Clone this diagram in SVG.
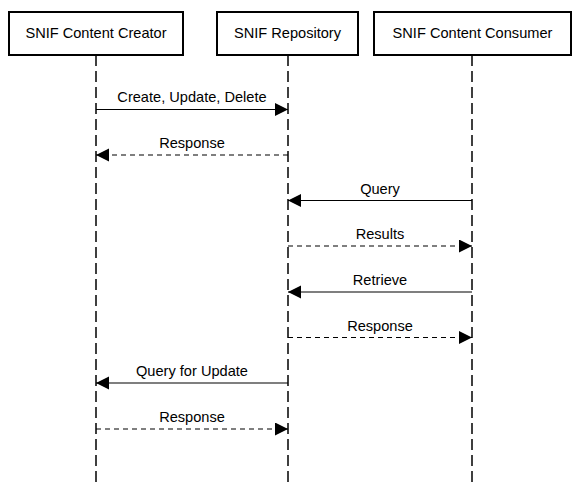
<svg xmlns="http://www.w3.org/2000/svg" width="578" height="486" viewBox="0 0 578 486">
<style>
.box{fill:#fff;stroke:#000;stroke-width:2}
.life{stroke:#000;stroke-width:1.5;stroke-dasharray:11,5;fill:none}
.msg{stroke:#000;stroke-width:1.2;fill:none;marker-end:url(#ah)}
.dash{stroke-dasharray:5,4}
text{font-family:"Liberation Sans",Arial,sans-serif;font-size:14.6px;fill:#000;text-anchor:middle}
</style>
<defs>
<marker id="ah" markerUnits="userSpaceOnUse" markerWidth="14" markerHeight="14" refX="13" refY="6.5" orient="auto">
<path d="M0,0 L13,6.5 L0,13 z" fill="#000"/>
</marker>
</defs>
<g id="lifelines">
<line class="life" x1="96" y1="55" x2="96" y2="486"/>
<line class="life" x1="288" y1="55" x2="288" y2="486"/>
<line class="life" x1="472" y1="55" x2="472" y2="486"/>
</g>
<g id="creator"><rect class="box" x="9" y="12" width="174" height="43"/><text x="96" y="38">SNIF Content Creator</text></g>
<g id="repository"><rect class="box" x="217" y="12" width="141" height="43"/><text x="287.5" y="38">SNIF Repository</text></g>
<g id="consumer"><rect class="box" x="374" y="12" width="197" height="43"/><text x="472.5" y="38">SNIF Content Consumer</text></g>
<g id="connectors">
<line class="msg" x1="96" y1="109.5" x2="288" y2="109.5"/>
<text x="192" y="102">Create, Update, Delete</text>
<line class="msg dash" x1="288" y1="155" x2="96" y2="155"/>
<text x="192" y="148">Response</text>
<line class="msg" x1="472" y1="200.5" x2="288" y2="200.5"/>
<text x="380" y="193.5">Query</text>
<line class="msg dash" x1="288" y1="246" x2="472" y2="246"/>
<text x="380" y="239">Results</text>
<line class="msg" x1="472" y1="292" x2="288" y2="292"/>
<text x="380" y="285">Retrieve</text>
<line class="msg dash" x1="288" y1="337.5" x2="472" y2="337.5"/>
<text x="380" y="330.5">Response</text>
<line class="msg" x1="288" y1="383" x2="96" y2="383"/>
<text x="192" y="376">Query for Update</text>
<line class="msg dash" x1="96" y1="429" x2="288" y2="429"/>
<text x="192" y="422">Response</text>
</g>
</svg>
